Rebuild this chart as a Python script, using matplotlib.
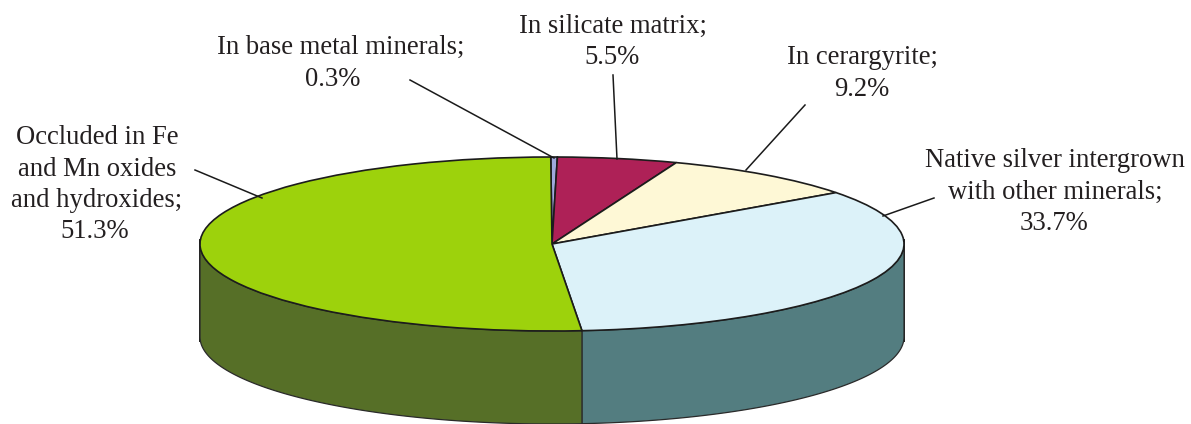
import numpy as np
import matplotlib
matplotlib.use("Agg")
import matplotlib.pyplot as plt
from matplotlib.transforms import IdentityTransform

# Silver distribution by mineral form, percent, clockwise from the top of the pie
names = [
    "In base metal minerals;",
    "In silicate matrix;",
    "In cerargyrite;",
    "Native silver intergrown\nwith other minerals;",
    "Occluded in Fe\nand Mn oxides\nand hydroxides;",
]
values = [0.3, 5.5, 9.2, 33.7, 51.3]
top_colors = ["#9FA8DC", "#AE2157", "#FEF8D6", "#DCF2F9", "#9DD20C"]
wall_colors = ["#4E5470", "#57102B", "#7F7C6B", "#537D80", "#566F27"]

W, H = 1191, 424
CX, CY, RX, RY, DEPTH = 552, 244, 352, 87, 93
START = 90.2
LINE_PITCH = 31.5

plt.rcParams["font.family"] = ["Liberation Serif", "DejaVu Serif"]
fig = plt.figure(figsize=(W / 100, H / 100), dpi=100)
ax = fig.add_axes([0, 0, 1, 1])

# Top face: a unit pie stretched into an ellipse by unequal axis scales
ax.pie(
    values, colors=top_colors, startangle=START, counterclock=False, radius=1.0,
    wedgeprops=dict(edgecolor="#1c1c1c", linewidth=1.2, zorder=3),
)
ax.set_aspect("auto")
ax.set_xlim(-CX / RX, (W - CX) / RX)
ax.set_ylim((CY - H) / RY, CY / RY)
ax.axis("off")

# Side walls: the part of each slice's rim that faces the viewer
d = DEPTH / RY
edges = START - np.cumsum([0] + values) * 3.6
for i in range(len(values)):
    for shift in (0, 360):
        a = max(edges[i + 1] + shift, -180)
        b = min(edges[i] + shift, 0)
        if b > a:
            t = np.radians(np.linspace(a, b, 200))
            x, y = np.cos(t), np.sin(t)
            ax.fill(np.r_[x, x[::-1]], np.r_[y, y[::-1] - d],
                    facecolor=wall_colors[i], edgecolor="#2a2a2a", linewidth=0.9, zorder=2)

# Dark vertical edges of the cylinder
for sx in (-1, 1):
    ax.plot([sx, sx], [0.05, -d - 0.05], color="#1c1c1c", linewidth=1.4, zorder=1.5)

# Centre x and first-line y of each name, centre x and y of each percentage
name_pos = [(341, 47.5), (613, 26.5), (862, 57.5), (1055, 160.5), (97, 137.5)]
pct_pos = [(333, 79.5), (612, 57.5), (862, 89.5), (1054, 223.5), (95, 231.5)]
leaders = [
    ((410, 80), (554, 158)),
    ((613, 75), (617, 159)),
    ((805, 105), (746, 170)),
    ((934, 198), (883, 216)),
    ((195, 170), (262, 198)),
]
style = dict(transform=None, ha="center", va="center", fontsize=19.2, color="#231f20")
for name, value, (nx, ny), (vx, vy) in zip(names, values, name_pos, pct_pos):
    for k, line in enumerate(name.split("\n")):
        fig.text(nx, H - ny - k * LINE_PITCH, line, **style)
    fig.text(vx, H - vy, f"{value}%", **style)

for (x0, y0), (x1, y1) in leaders:
    ax.plot([x0, x1], [H - y0, H - y1], transform=IdentityTransform(),
            color="#1a1a1a", linewidth=1.1, zorder=5, clip_on=False)

fig.savefig("out.png", dpi=100, facecolor="white")
